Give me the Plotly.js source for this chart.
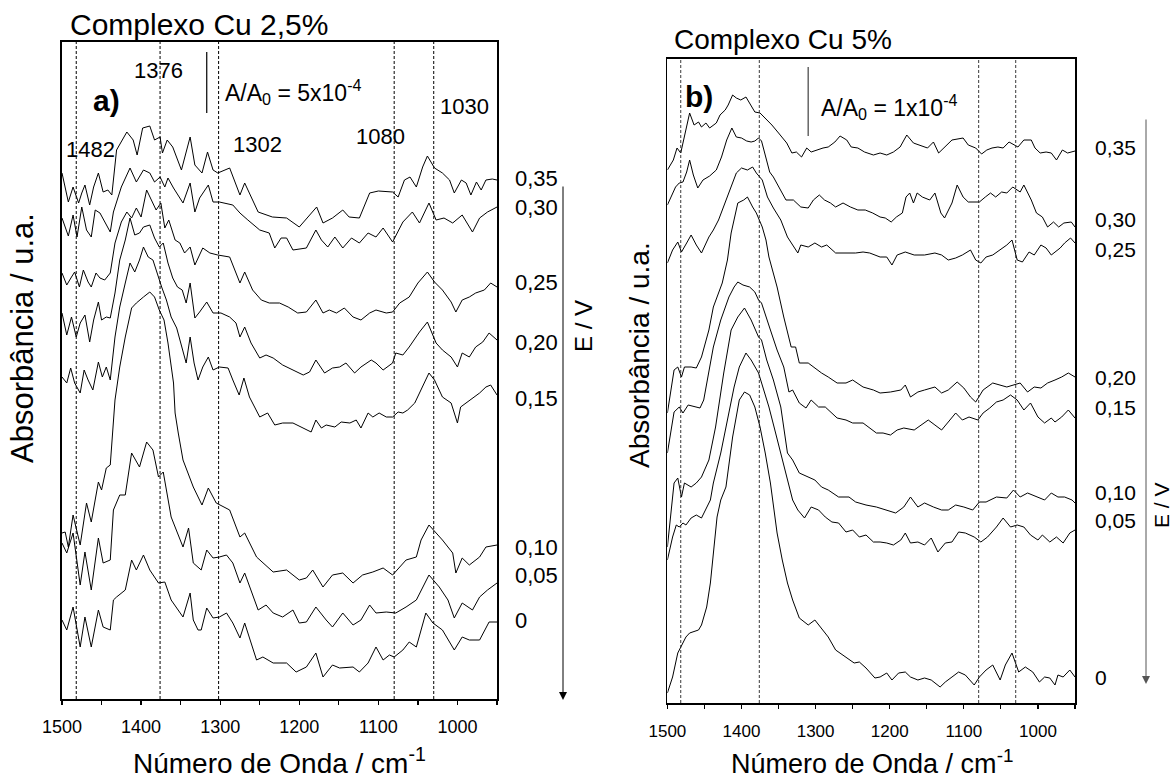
<!DOCTYPE html>
<html>
<head>
<meta charset="utf-8">
<script src="https://cdn.plot.ly/plotly-3.0.1.min.js"></script>
<style>
html,body{margin:0;padding:0;background:#fff;}
#chart{width:1175px;height:780px;}
</style>
</head>
<body>
<div id="chart"></div>
<script>
// ---------------- DATA (wavenumber cm-1, absorbance in arbitrary stacked units) ----------------
const potentials = ['0,35','0,30','0,25','0,20','0,15','0,10','0,05','0'];
const bandsA = [1482, 1376, 1302, 1080, 1030];
const bandsB = [1482, 1376, 1080, 1030];
const bandLabelsA = ['1482', '1376', '1302', '1080', '1030'];

const specA_035 = [[1500,526],[1492,497],[1486,512],[1479,496],[1475,506],[1471,514],[1465,494],[1460,512],[1454,526],[1448,507],[1442,509],[1437,504],[1431,549],[1418,567],[1410,559],[1405,544],[1398,571],[1389,573],[1383,559],[1376,562],[1373,546],[1367,559],[1360,552],[1349,529],[1338,562],[1332,534],[1323,526],[1316,547],[1309,529],[1303,526],[1288,531],[1275,504],[1269,516],[1252,487],[1234,482],[1216,481],[1200,472],[1178,492],[1170,476],[1158,481],[1145,489],[1137,482],[1124,481],[1111,506],[1100,508],[1082,507],[1075,502],[1067,519],[1060,522],[1052,512],[1044,532],[1038,543],[1029,531],[1019,526],[1010,519],[1004,506],[995,519],[989,516],[983,504],[976,517],[970,509],[964,519],[956,520],[950,519]];
const specA_030 = [[1500,481],[1492,463],[1486,484],[1481,462],[1475,492],[1469,469],[1463,462],[1458,489],[1452,486],[1446,477],[1439,467],[1435,487],[1425,512],[1414,531],[1406,517],[1397,529],[1389,526],[1383,517],[1376,522],[1370,512],[1366,521],[1359,511],[1347,496],[1338,516],[1332,487],[1326,501],[1315,514],[1309,497],[1301,497],[1284,494],[1275,486],[1265,479],[1250,469],[1238,466],[1231,451],[1223,461],[1216,461],[1208,449],[1191,451],[1179,469],[1172,459],[1164,452],[1155,462],[1145,451],[1134,461],[1124,456],[1113,466],[1103,462],[1094,471],[1082,457],[1069,477],[1057,487],[1048,476],[1036,496],[1027,479],[1017,481],[1006,476],[994,484],[981,467],[972,481],[962,487],[950,492]];
const specA_025 = [[1500,426],[1494,414],[1488,422],[1484,427],[1478,412],[1473,429],[1467,417],[1463,412],[1457,426],[1452,421],[1446,419],[1439,426],[1433,456],[1425,477],[1418,487],[1412,481],[1406,491],[1400,482],[1393,509],[1387,499],[1381,489],[1375,496],[1370,471],[1365,479],[1357,459],[1351,456],[1345,446],[1338,452],[1332,434],[1322,451],[1313,446],[1303,444],[1288,442],[1275,416],[1269,427],[1259,409],[1248,399],[1238,396],[1225,396],[1214,392],[1202,386],[1191,387],[1179,399],[1170,386],[1162,389],[1153,386],[1143,391],[1132,382],[1122,379],[1111,386],[1103,389],[1090,386],[1082,387],[1073,396],[1061,402],[1050,416],[1038,427],[1029,417],[1019,409],[1008,397],[1002,387],[994,399],[985,402],[977,406],[966,409],[958,416],[950,412]];
const specA_020 = [[1500,386],[1494,364],[1488,382],[1482,362],[1477,376],[1471,384],[1465,357],[1460,379],[1454,397],[1450,379],[1444,382],[1439,381],[1433,406],[1427,439],[1420,459],[1414,481],[1408,464],[1402,466],[1397,472],[1389,474],[1383,461],[1377,452],[1372,456],[1366,436],[1360,421],[1354,412],[1348,409],[1343,396],[1338,416],[1332,381],[1326,387],[1317,397],[1309,386],[1299,386],[1288,382],[1280,376],[1275,362],[1269,372],[1261,356],[1250,341],[1242,344],[1233,341],[1221,334],[1208,329],[1195,324],[1187,327],[1179,339],[1168,326],[1158,331],[1149,332],[1141,336],[1130,326],[1122,332],[1109,339],[1103,336],[1094,329],[1082,336],[1078,346],[1069,344],[1061,352],[1048,367],[1038,377],[1027,356],[1019,349],[1008,342],[1000,332],[994,346],[985,342],[977,352],[968,357],[960,366],[950,359]];
const specA_015 = [[1500,322],[1494,316],[1489,331],[1484,316],[1477,306],[1472,329],[1467,319],[1461,309],[1454,337],[1449,322],[1444,332],[1439,319],[1433,362],[1427,392],[1420,416],[1414,436],[1408,427],[1402,439],[1397,452],[1391,442],[1385,439],[1380,426],[1374,412],[1368,399],[1362,382],[1355,371],[1349,352],[1343,336],[1338,362],[1333,336],[1328,319],[1322,332],[1315,342],[1309,329],[1301,332],[1290,331],[1284,319],[1276,304],[1270,321],[1263,302],[1250,282],[1240,286],[1231,274],[1221,276],[1208,276],[1195,271],[1185,267],[1179,279],[1172,271],[1166,274],[1155,272],[1147,277],[1136,276],[1128,279],[1122,271],[1113,286],[1107,282],[1099,286],[1090,282],[1082,282],[1075,287],[1069,286],[1063,289],[1054,296],[1044,312],[1036,326],[1029,319],[1019,302],[1008,296],[1000,276],[996,292],[989,296],[981,301],[972,306],[964,312],[958,314],[950,304]];
const specA_010 = [[1500,166],[1496,167],[1492,152],[1486,184],[1477,154],[1469,196],[1463,177],[1454,217],[1450,209],[1444,231],[1439,234],[1433,299],[1427,332],[1420,362],[1412,391],[1406,396],[1397,402],[1389,407],[1383,402],[1377,389],[1371,379],[1366,356],[1359,316],[1357,286],[1353,266],[1347,239],[1334,212],[1323,194],[1315,211],[1305,196],[1288,189],[1275,162],[1269,166],[1254,142],[1233,127],[1216,129],[1200,119],[1191,121],[1183,129],[1170,112],[1158,124],[1145,126],[1132,116],[1120,124],[1107,127],[1094,131],[1082,124],[1065,139],[1052,142],[1046,159],[1036,174],[1019,159],[1006,146],[1002,126],[994,141],[985,134],[972,142],[964,152],[950,154]];
const specA_005 = [[1500,156],[1494,146],[1486,166],[1477,114],[1471,147],[1463,109],[1454,161],[1448,136],[1439,139],[1435,189],[1427,204],[1420,204],[1412,246],[1402,232],[1393,257],[1385,249],[1378,222],[1372,227],[1362,182],[1347,152],[1340,171],[1334,136],[1324,129],[1317,149],[1309,141],[1301,142],[1292,144],[1284,136],[1275,116],[1269,126],[1252,89],[1242,94],[1233,86],[1221,82],[1208,89],[1200,76],[1191,77],[1179,92],[1166,79],[1158,72],[1145,86],[1132,74],[1122,79],[1111,94],[1103,86],[1090,87],[1078,86],[1065,92],[1052,99],[1036,124],[1023,112],[1012,99],[1004,81],[994,96],[981,89],[972,102],[962,109],[950,116]];
const specA_000 = [[1500,79],[1494,69],[1486,92],[1477,52],[1471,82],[1463,52],[1454,89],[1448,72],[1439,69],[1435,99],[1431,102],[1420,109],[1412,139],[1406,129],[1397,144],[1389,129],[1378,116],[1370,117],[1362,99],[1347,82],[1338,106],[1334,79],[1328,69],[1324,69],[1317,91],[1309,81],[1301,82],[1292,86],[1284,76],[1275,61],[1269,76],[1254,39],[1246,42],[1233,36],[1216,36],[1204,27],[1191,32],[1179,46],[1170,22],[1158,34],[1149,31],[1132,32],[1124,27],[1113,36],[1103,52],[1094,39],[1086,44],[1080,42],[1069,49],[1061,57],[1052,52],[1040,86],[1031,76],[1019,69],[1004,49],[994,62],[985,59],[972,59],[960,77],[950,77]];

const specB_035 = [[1500,533],[1492,543],[1487,555],[1482,550],[1479,560],[1470,590],[1464,578],[1458,581],[1454,576],[1448,580],[1443,575],[1434,580],[1429,588],[1422,593],[1418,598],[1412,608],[1407,605],[1401,603],[1394,606],[1389,600],[1382,591],[1375,590],[1368,585],[1359,578],[1350,570],[1344,565],[1339,560],[1332,550],[1326,551],[1319,546],[1312,555],[1306,551],[1299,553],[1290,555],[1283,556],[1274,561],[1267,567],[1258,563],[1252,556],[1243,555],[1234,551],[1222,548],[1213,550],[1204,548],[1195,551],[1186,556],[1177,568],[1168,560],[1149,555],[1141,561],[1134,550],[1126,556],[1116,563],[1101,565],[1094,558],[1084,555],[1076,549],[1069,553],[1062,555],[1054,556],[1047,555],[1039,561],[1027,556],[1019,563],[1009,563],[1004,555],[997,550],[989,551],[982,550],[975,543],[967,553],[960,550],[950,552]];
const specB_030 = [[1500,498],[1494,508],[1489,516],[1484,520],[1479,521],[1474,531],[1470,543],[1465,528],[1459,515],[1452,523],[1443,527],[1434,533],[1427,546],[1420,563],[1413,575],[1407,566],[1400,565],[1393,562],[1387,561],[1382,562],[1377,565],[1373,562],[1368,548],[1362,531],[1357,526],[1347,513],[1340,503],[1330,503],[1320,496],[1310,495],[1303,503],[1295,508],[1288,503],[1280,500],[1273,496],[1263,500],[1253,496],[1243,493],[1233,493],[1223,490],[1213,486],[1206,485],[1198,481],[1191,486],[1183,490],[1178,506],[1173,510],[1168,500],[1163,510],[1156,506],[1146,503],[1139,510],[1131,490],[1126,485],[1116,500],[1109,518],[1101,506],[1094,501],[1086,501],[1079,501],[1071,506],[1064,510],[1057,506],[1049,511],[1042,510],[1034,516],[1024,511],[1019,518],[1009,503],[1002,490],[994,486],[987,476],[979,481],[972,476],[965,480],[955,481],[950,476]];
const specB_025 = [[1500,440],[1493,453],[1486,461],[1481,451],[1474,460],[1468,468],[1461,458],[1454,450],[1444,466],[1438,473],[1431,483],[1419,506],[1407,530],[1400,535],[1392,533],[1385,536],[1380,530],[1372,523],[1365,506],[1357,495],[1347,483],[1338,466],[1324,450],[1320,458],[1310,456],[1301,460],[1292,456],[1285,458],[1273,450],[1259,450],[1246,450],[1236,451],[1227,450],[1213,446],[1204,446],[1197,438],[1190,448],[1179,451],[1167,448],[1153,448],[1139,450],[1130,448],[1121,443],[1111,445],[1102,448],[1091,453],[1084,443],[1077,440],[1070,446],[1061,448],[1051,453],[1042,458],[1035,463],[1028,443],[1021,441],[1012,451],[1005,448],[996,458],[989,455],[982,448],[970,455],[964,460],[956,465],[950,460]];
const specB_020 = [[1500,290],[1491,333],[1486,336],[1481,326],[1477,336],[1468,336],[1461,335],[1454,346],[1444,373],[1438,396],[1426,420],[1419,443],[1414,470],[1410,485],[1405,500],[1397,503],[1392,506],[1385,496],[1380,490],[1372,476],[1367,463],[1363,446],[1352,416],[1343,386],[1333,356],[1327,356],[1322,340],[1310,340],[1301,335],[1292,330],[1283,326],[1271,320],[1259,320],[1250,323],[1236,316],[1222,313],[1213,310],[1199,311],[1185,313],[1179,318],[1172,306],[1162,311],[1153,313],[1139,316],[1130,310],[1121,313],[1109,321],[1100,315],[1091,306],[1084,301],[1074,313],[1061,320],[1042,316],[1033,318],[1024,320],[1014,311],[1005,316],[996,315],[987,320],[977,323],[968,326],[959,330],[950,326]];
const specB_015 = [[1500,250],[1491,291],[1484,296],[1479,290],[1472,298],[1463,296],[1456,295],[1451,303],[1444,330],[1438,356],[1428,383],[1417,406],[1410,416],[1405,421],[1398,418],[1389,416],[1382,411],[1377,403],[1373,400],[1368,388],[1361,373],[1352,353],[1343,336],[1336,311],[1331,313],[1322,300],[1313,295],[1306,303],[1296,296],[1287,296],[1278,290],[1271,285],[1259,283],[1250,280],[1236,280],[1227,275],[1218,270],[1209,270],[1199,268],[1190,273],[1181,275],[1167,273],[1158,278],[1148,283],[1139,278],[1130,273],[1121,281],[1111,290],[1102,283],[1093,286],[1081,283],[1074,290],[1065,295],[1056,301],[1047,303],[1037,308],[1028,303],[1019,293],[1010,300],[1000,286],[991,280],[982,285],[977,281],[968,286],[959,293],[950,285]];
const specB_010 = [[1500,156],[1491,220],[1486,225],[1481,206],[1477,220],[1468,216],[1461,220],[1454,226],[1444,243],[1435,276],[1424,330],[1414,373],[1405,386],[1396,395],[1387,383],[1377,366],[1373,363],[1366,343],[1357,323],[1347,296],[1338,250],[1331,243],[1322,230],[1310,226],[1301,223],[1292,216],[1283,213],[1269,206],[1255,206],[1246,201],[1232,198],[1218,196],[1204,193],[1192,190],[1181,196],[1172,206],[1162,196],[1153,200],[1141,196],[1130,193],[1121,193],[1111,198],[1100,196],[1088,193],[1079,201],[1070,201],[1056,206],[1042,205],[1033,213],[1024,206],[1014,210],[1000,206],[991,203],[982,210],[973,206],[964,206],[954,203],[950,200]];
const specB_005 = [[1500,143],[1493,166],[1488,178],[1484,176],[1479,180],[1475,178],[1468,185],[1461,188],[1454,185],[1447,196],[1442,203],[1438,220],[1428,250],[1419,283],[1410,316],[1403,336],[1394,350],[1387,343],[1377,330],[1370,313],[1363,296],[1354,270],[1345,243],[1338,223],[1331,203],[1324,193],[1315,185],[1306,196],[1296,193],[1287,186],[1278,181],[1269,180],[1259,171],[1250,173],[1241,166],[1232,168],[1222,161],[1213,161],[1204,160],[1195,158],[1185,163],[1179,170],[1172,160],[1162,161],[1153,158],[1144,165],[1135,151],[1125,160],[1116,161],[1107,171],[1098,170],[1086,166],[1077,161],[1068,166],[1056,176],[1047,185],[1037,176],[1028,178],[1019,176],[1010,168],[1000,163],[994,168],[984,161],[975,166],[966,160],[957,170],[950,173]];
const specB_000 = [[1500,10],[1493,26],[1486,50],[1482,56],[1479,60],[1475,66],[1470,70],[1465,71],[1458,73],[1454,78],[1447,96],[1442,120],[1438,153],[1433,186],[1428,203],[1421,216],[1412,266],[1403,303],[1396,311],[1389,308],[1382,296],[1375,276],[1368,250],[1361,220],[1352,170],[1345,143],[1338,120],[1331,103],[1322,85],[1310,78],[1301,83],[1292,75],[1283,66],[1273,53],[1264,48],[1255,43],[1248,40],[1241,41],[1232,35],[1220,25],[1213,26],[1204,30],[1197,23],[1188,30],[1179,31],[1172,26],[1162,23],[1153,25],[1144,23],[1132,16],[1125,21],[1116,26],[1107,31],[1098,28],[1086,18],[1079,26],[1070,33],[1061,38],[1051,23],[1044,38],[1035,50],[1026,31],[1017,36],[1007,31],[998,21],[991,26],[984,25],[977,18],[973,28],[966,26],[957,33],[950,26]];

const seriesA = [specA_035, specA_030, specA_025, specA_020, specA_015, specA_010, specA_005, specA_000];
const seriesB = [specB_035, specB_030, specB_025, specB_020, specB_015, specB_010, specB_005, specB_000];

// ---------------- LAYOUT CONFIG (positions / styles) ----------------
const W = 1175, H = 780;
const FONT = 'Liberation Sans, Arial, Helvetica, sans-serif';
const PX = v => v / W, PY = v => 1 - v / H;
const labelYA = [521, 492, 417, 357, 301, 152, 124, 79];   // in y-units of panel a
const labelYB = [555, 483, 453, 325, 295, 210, 183, 26];   // in y-units of panel b
const scaleBarA = {x: 1317, y0: 586, y1: 647};
const scaleBarB = {x: 1310, y0: 567, y1: 636};

const traces = [];
seriesA.forEach(s => traces.push({x: s.map(p => p[0]), y: s.map(p => p[1]), xaxis: 'x', yaxis: 'y',
  mode: 'lines', line: {color: '#000', width: 1}, hoverinfo: 'skip', showlegend: false}));
seriesB.forEach(s => traces.push({x: s.map(p => p[0]), y: s.map(p => p[1]), xaxis: 'x2', yaxis: 'y2',
  mode: 'lines', line: {color: '#000', width: 1}, hoverinfo: 'skip', showlegend: false}));

function xAxis(domain, fs, standoff) {
  return {domain: domain, range: [1500, 950], autorange: false, tickmode: 'linear', tick0: 1000, dtick: 100,
    ticks: 'outside', ticklen: 4, tickwidth: 1.2, tickcolor: '#000', showline: true, linecolor: '#000',
    linewidth: 1.6, mirror: true, showgrid: false, zeroline: false, ticklabelstandoff: standoff,
    tickfont: {family: FONT, size: fs, color: '#000'},
    minor: {dtick: 50, tick0: 1000, ticks: 'outside', ticklen: 4, tickwidth: 1.2, tickcolor: '#000', showgrid: false}};
}
function yAxis(domain, range, anchor) {
  return {domain: domain, range: range, autorange: false, showticklabels: false, ticks: '', showline: true,
    linecolor: '#000', linewidth: 1.6, mirror: true, showgrid: false, zeroline: false, anchor: anchor};
}

const shapes = [];
bandsA.forEach(b => shapes.push({type: 'line', xref: 'x', yref: 'y domain', x0: b, x1: b, y0: 0, y1: 1,
  line: {color: '#000', width: 1, dash: '3px,2px'}}));
bandsB.forEach(b => shapes.push({type: 'line', xref: 'x2', yref: 'y2 domain', x0: b, x1: b, y0: 0, y1: 1,
  line: {color: '#222', width: 0.9, dash: '3px,2px'}}));
shapes.push({type: 'line', xref: 'x', yref: 'y', x0: scaleBarA.x, x1: scaleBarA.x, y0: scaleBarA.y0, y1: scaleBarA.y1,
  line: {color: '#000', width: 1.2}});
shapes.push({type: 'line', xref: 'x2', yref: 'y2', x0: scaleBarB.x, x1: scaleBarB.x, y0: scaleBarB.y0, y1: scaleBarB.y1,
  line: {color: '#666', width: 1.5}});

const ann = [];
function txt(text, x, y, size, opts) {
  ann.push(Object.assign({xref: 'paper', yref: 'paper', x: x, y: y, text: text, showarrow: false,
    xanchor: 'center', yanchor: 'middle', font: {family: FONT, size: size, color: '#000'}}, opts || {}));
}
// panel a
txt('Complexo Cu 2,5%', PX(68), PY(25), 30, {xanchor: 'left'});
txt('<b>a)</b>', PX(91), PY(101), 30, {xanchor: 'left'});
const bandLabelPosA = [[90, 149.5], [158, 70], [257, 144.5], [380.5, 136], [464, 106.5]];
bandLabelsA.forEach((t, i) => txt(t, PX(bandLabelPosA[i][0]), PY(bandLabelPosA[i][1]), 22));
txt('A/A<sub>0</sub> = 5x10<sup>-4</sup>', PX(223), PY(92), 23, {xanchor: 'left'});
txt('E / V', PX(583), PY(326), 24, {textangle: -90});
txt('Absorbância / u.a.', PX(22), PY(338), 31, {textangle: -90});
txt('Número de Onda / cm<sup>-1</sup>', PX(279), PY(761), 28);
potentials.forEach((p, i) => ann.push({xref: 'paper', yref: 'y', x: PX(513), y: labelYA[i], text: p,
  showarrow: false, xanchor: 'left', yanchor: 'middle', font: {family: FONT, size: 22, color: '#000'}}));
ann.push({xref: 'paper', yref: 'paper', x: PX(563), y: PY(700), ax: 0, ay: -515, axref: 'pixel', ayref: 'pixel',
  text: '', showarrow: true, arrowhead: 2, arrowsize: 1.6, arrowwidth: 1, arrowcolor: '#000', standoff: 0});
// panel b
txt('Complexo Cu 5%', PX(672), PY(39), 28, {xanchor: 'left'});
txt('<b>b)</b>', PX(683), PY(96), 30, {xanchor: 'left'});
txt('A/A<sub>0</sub> = 1x10<sup>-4</sup>', PX(819), PY(107), 23, {xanchor: 'left'});
txt('E / V', PX(1161), PY(505), 21, {textangle: -90});
txt('Absorbância / u.a.', PX(640), PY(355), 28, {textangle: -90});
txt('Número de Onda / cm<sup>-1</sup>', PX(872), PY(762), 27);
potentials.forEach((p, i) => ann.push({xref: 'paper', yref: 'y2', x: PX(1093), y: labelYB[i], text: p,
  showarrow: false, xanchor: 'left', yanchor: 'middle', font: {family: FONT, size: 21, color: '#000'}}));
ann.push({xref: 'paper', yref: 'paper', x: PX(1146), y: PY(684), ax: 0, ay: -566, axref: 'pixel', ayref: 'pixel',
  text: '', showarrow: true, arrowhead: 2, arrowsize: 1.6, arrowwidth: 1, arrowcolor: '#555', standoff: 0});

const layout = {
  width: W, height: H, margin: {l: 0, r: 0, t: 0, b: 0}, paper_bgcolor: '#fff', plot_bgcolor: '#fff',
  showlegend: false, font: {family: FONT, color: '#000'},
  xaxis: Object.assign(xAxis([62 / W, 497 / W], 18, 7), {anchor: 'y'}),
  yaxis: yAxis([1 - 699 / H, 1 - 42 / H], [0, 657], 'x'),
  xaxis2: Object.assign(xAxis([667.4 / W, 1075 / W], 17, 8), {anchor: 'y2'}),
  yaxis2: yAxis([1 - 703 / H, 1 - 59 / H], [0, 644], 'x2'),
  shapes: shapes, annotations: ann
};
Plotly.newPlot('chart', traces, layout, {displayModeBar: false, staticPlot: true});
</script>
</body>
</html>
